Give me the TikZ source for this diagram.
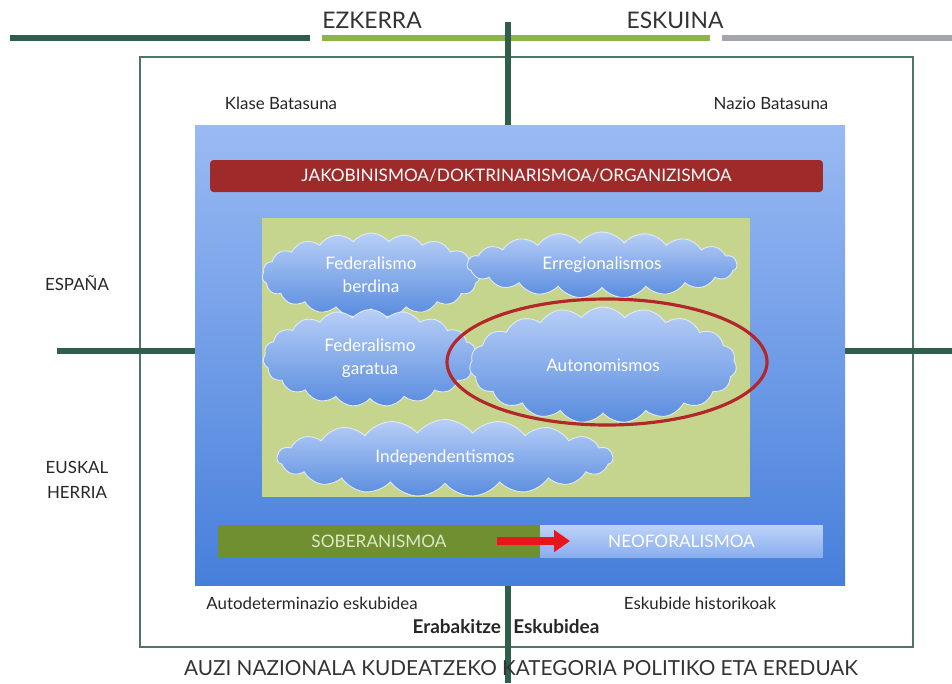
\documentclass[tikz,border=0pt]{standalone}
\usepackage{fontspec}
\setmainfont{Lato}
\usetikzlibrary{shapes.symbols,arrows.meta}
\definecolor{axisgreen}{HTML}{2F5E4C}
\definecolor{leftgreen}{HTML}{8DB446}
\definecolor{rightgray}{HTML}{A3A7AB}
\definecolor{boxtop}{HTML}{9ABAF3}
\definecolor{boxbot}{HTML}{467FDB}
\definecolor{barred}{HTML}{9E2A2A}
\definecolor{fieldgreen}{HTML}{C6D58E}
\definecolor{olive}{HTML}{6F8F31}
\definecolor{ringred}{HTML}{B3262A}
\definecolor{arrowred}{HTML}{E8161C}
\tikzset{
  axis/.style={line width=3.4pt,axisgreen},
  lbl/.style={inner sep=0,font=\fontsize{9.6}{11}\selectfont,text=black!85},
  caps/.style={inner sep=0,font=\fontsize{11.8}{13}\selectfont,text=black!80},
  blob/.style={cloud,cloud puffs=19,cloud puff arc=105,cloud ignores aspect,
    draw=white!70!boxtop,line width=0.5pt,top color=white!30!boxtop,
    bottom color=boxbot!90,text=white,align=center,
    font=\fontsize{9.8}{13}\selectfont,inner sep=0},
  bar/.style={rounded corners=2pt,minimum height=0.64cm,inner sep=0,
    font=\fontsize{9.8}{11}\selectfont}
}
\begin{document}
\begin{tikzpicture}[x=0.02cm,y=-0.02cm]
  \useasboundingbox (0,0) rectangle (952,683);
  % top scale
  \coordinate (t0) at (10,38);  \coordinate (t1) at (310,38);
  \coordinate (t2) at (322,38); \coordinate (t3) at (710,38);
  \coordinate (t4) at (722,38); \coordinate (t5) at (952,38);
  \draw[line width=3.4pt,axisgreen] (t0)--(t1);
  \draw[line width=3.4pt,leftgreen] (t2)--(t3);
  \draw[line width=3.4pt,rightgray] (t4)--(t5);
  \node[caps,font=\fontsize{13}{15}\selectfont](ezk)at(372,20){EZKERRA};
  \node[caps,font=\fontsize{13}{15}\selectfont](esk)at(675,20){ESKUINA};
  % frame and axes
  \draw[line width=1.2pt,axisgreen!85] (140,57) rectangle (913,647);
  \coordinate (vtop) at (508,22); \coordinate (vbot) at (508,683);
  \coordinate (hl) at (57,351);   \coordinate (hr) at (952,351);
  \draw[axis] (vtop)--(vbot);
  \draw[axis] (hl)--(hr);
  % blue panel
  \shade[top color=boxtop,bottom color=boxbot] (195,125) rectangle (845,585);
  \node[bar,fill=barred,text=white,minimum width=12.26cm](jak)at(516.5,176)
    {JAKOBINISMOA/DOKTRINARISMOA/ORGANIZISMOA};
  \fill[fieldgreen] (262,218) rectangle (750,497);
  % clouds
  \node[blob,minimum width=4.36cm,minimum height=1.68cm](fb)at(371,275){Federalismo\\berdina};
  \node[blob,minimum width=5.4cm,minimum height=1.32cm](err)at(602,265){Erregionalismos};
  \node[blob,minimum width=4.28cm,minimum height=1.94cm](fg)at(370,358){Federalismo\\garatua};
  \node[blob,minimum width=5.34cm,minimum height=2.32cm](aut)at(603,365){Autonomismos};
  \node[blob,minimum width=6.72cm,minimum height=1.54cm](ind)at(445,458){Independentismos};
  \draw[ringred,line width=1.8pt] (607,362) ellipse [x radius=160,y radius=63];
  % bottom bars
  \node[bar,fill=olive,text=leftgreen!30,minimum width=6.44cm,rounded corners=0pt](sob)at(379,541){SOBERANISMOA};
  \node[bar,top color=white!35!boxtop,bottom color=boxtop!80!boxbot,text=white,
    minimum width=5.66cm,rounded corners=0pt](neo)at(681.5,541){NEOFORALISMOA};
  \coordinate (ar0) at (497,541); \coordinate (ar1) at (570,541);
  \draw[arrowred,line width=4pt,-{Triangle[length=9pt,width=12pt]}] (ar0)--(ar1);
  % side labels
  \node[lbl](kb)at(281,103){Klase Batasuna};
  \node[lbl](nb)at(771,103){Nazio Batasuna};
  \node[lbl,align=center](esp)at(77,283){ESPAÑA};
  \node[lbl,align=center,font=\fontsize{9.6}{14}\selectfont](eh)at(77,480){EUSKAL\\HERRIA};
  \node[lbl](aute)at(312,603){Autodeterminazio eskubidea};
  \node[lbl](eskh)at(700,603){Eskubide historikoak};
  \node[lbl,font=\bfseries\fontsize{10.8}{12}\selectfont](erab)at(506,627){Erabakitze\hspace{7pt}Eskubidea};
  \node[caps](auzi)at(521,668){AUZI NAZIONALA KUDEATZEKO KATEGORIA POLITIKO ETA EREDUAK};
\end{tikzpicture}
\end{document}
